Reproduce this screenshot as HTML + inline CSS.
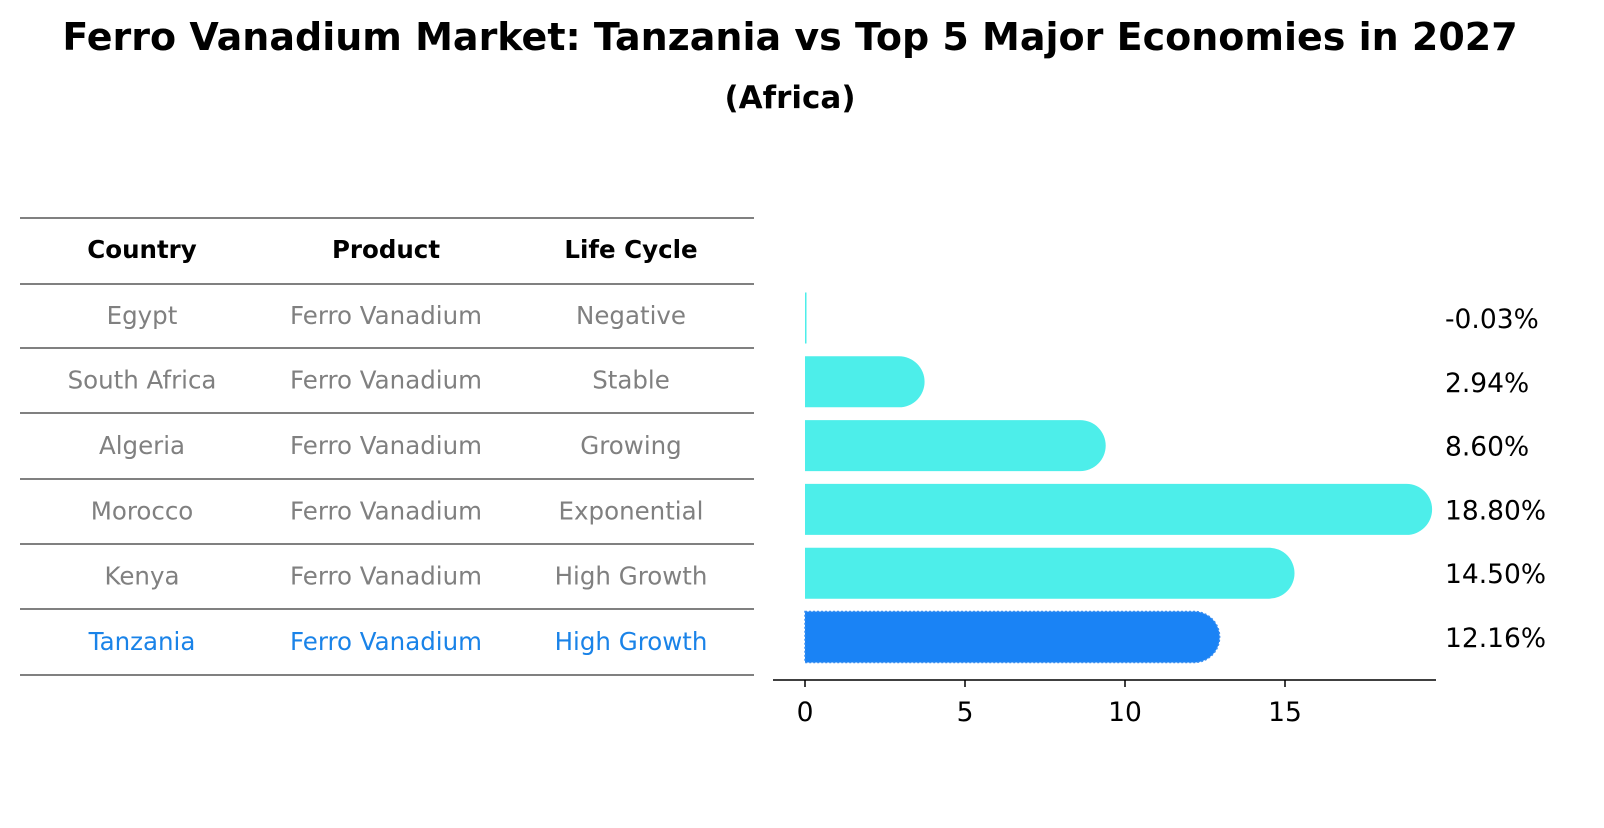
<!DOCTYPE html>
<html><head><meta charset="utf-8"><style>
body{margin:0;background:#fff;font-family:"Liberation Sans","DejaVu Sans",sans-serif;}
svg text{font-family:"DejaVu Sans","Liberation Sans",sans-serif;}
</style></head><body>
<svg width="1604" height="823" viewBox="0 0 1604 823">
<text x="790" y="50" text-anchor="middle" font-size="38" font-weight="bold">Ferro Vanadium Market: Tanzania vs Top 5 Major Economies in 2027</text>
<text x="790" y="108" text-anchor="middle" font-size="31" font-weight="bold">(Africa)</text>
<g id="table"></g>
<g id="bars"></g>
</svg>
<script>
const countries=["Egypt","South Africa","Algeria","Morocco","Kenya","Tanzania"];
const products=["Ferro Vanadium","Ferro Vanadium","Ferro Vanadium","Ferro Vanadium","Ferro Vanadium","Ferro Vanadium"];
const lifeCycles=["Negative","Stable","Growing","Exponential","High Growth","High Growth"];
const growth=[-0.03,2.94,8.60,18.80,14.50,12.16];
const xTicks=[0,5,10,15];
const NS="http://www.w3.org/2000/svg";
function mk(tag,attrs,parent,txt){const e=document.createElementNS(NS,tag);for(const k in attrs)e.setAttribute(k,attrs[k]);if(txt!==undefined)e.textContent=txt;parent.appendChild(e);return e;}
const tbl=document.getElementById('table');
const lineYs=[218,284,348,413,479,544,609,675];
lineYs.forEach((y,i)=>{const l=mk('line',{x1:20,x2:754,y1:y,y2:y,stroke:'#000','stroke-width':1},tbl);

});
const cx=[142,386,631];
["Country","Product","Life Cycle"].forEach((h,i)=>{const t=mk('text',{x:cx[i],y:258,'text-anchor':'middle','font-size':24.5,'font-weight':'bold'},tbl,h);

});
countries.forEach((c,r)=>{const y=(lineYs[r+1]+lineYs[r+2])/2+8;const col=r===countries.length-1?'#1a83e8':'#808080';
[c,products[r],lifeCycles[r]].forEach((v,i)=>{const t=mk('text',{x:cx[i],y:y,'text-anchor':'middle','font-size':24.5,fill:col},tbl,v);

});});
const bars=document.getElementById('bars');
const x0=805,ppu=32;const xs=v=>x0+v*ppu;
const yc=i=>318+i*63.8;const h=51,r=25.5;
growth.forEach((v,i)=>{const last=i===growth.length-1;const fill=last?'#1a83f5':'#4deeea';
const xe=xs(v);let d;
if(v<=0.05){d=`M${x0},${yc(i)-h/2}h1.5v${h}h-1.5z`;}
else{d=`M${x0},${yc(i)-h/2}H${xe}A${r},${r} 0 0 1 ${xe},${yc(i)+h/2}H${x0}Z`;}
const p=mk('path',{d:d,fill:fill},bars);
if(last){p.setAttribute('stroke','#3a8ef0');p.setAttribute('stroke-dasharray','2,2');p.setAttribute('stroke-width','1.5');}


const t=mk('text',{x:1445,y:yc(i)+10,'font-size':26.5},bars,v.toFixed(2)+'%');

});
const ax=mk('line',{x1:773,x2:1436,y1:680,y2:680,stroke:'#000','stroke-width':1.5},bars);


xTicks.forEach(v=>{const tk=mk('line',{x1:xs(v),x2:xs(v),y1:680,y2:687,stroke:'#000','stroke-width':1.5},bars);


const t=mk('text',{x:xs(v),y:721,'text-anchor':'middle','font-size':26.5},bars,String(v));

});
</script>
</body></html>
